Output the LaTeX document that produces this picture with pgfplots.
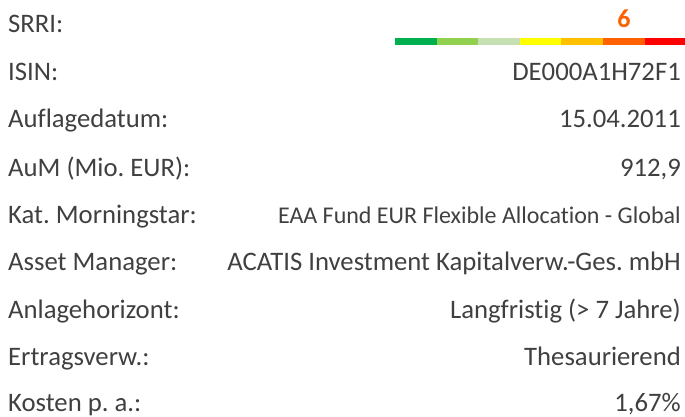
\documentclass[border=0pt]{standalone}
\usepackage{pgfplots}
\pgfplotsset{compat=1.18}
\usepackage{fontspec}
\setmainfont{Carlito}[Ligatures=NoCommon]
\frenchspacing
\definecolor{txt}{RGB}{64,64,64}
\definecolor{s1}{RGB}{0,176,80}
\definecolor{s2}{RGB}{146,208,80}
\definecolor{s3}{RGB}{198,224,180}
\definecolor{s4}{RGB}{255,255,0}
\definecolor{s5}{RGB}{255,192,0}
\definecolor{s6}{RGB}{255,96,0}
\definecolor{s7}{RGB}{255,0,0}
\tikzset{lbl/.style={text=txt, inner sep=0pt, font=\fontsize{26.7}{28}\selectfont}}
\begin{document}
\begin{tikzpicture}
\begin{axis}[
  scale only axis, width=685pt, height=417pt,
  xmin=0, xmax=685, ymin=0, ymax=417, y dir=reverse,
  hide axis, clip=false,
  xbar stacked, bar width=7pt,
]
% SRRI scale: offset, then 7 risk classes
\addplot[draw=none, fill=white, opacity=0] coordinates {(395,41.5)};
\addplot[draw=none, fill=s1] coordinates {(42,41.5)};
\addplot[draw=none, fill=s2] coordinates {(41,41.5)};
\addplot[draw=none, fill=s3] coordinates {(42,41.5)};
\addplot[draw=none, fill=s4] coordinates {(41,41.5)};
\addplot[draw=none, fill=s5] coordinates {(42,41.5)};
\addplot[draw=none, fill=s6] coordinates {(42,41.5)};
\addplot[draw=none, fill=s7] coordinates {(40,41.5)};

\node[anchor=base, text=s6, font=\fontsize{26}{28}\selectfont\bfseries]
  at (axis cs:624,28) {6};

\node[lbl, anchor=base west] at (axis cs:8,33)  {SRRI:};
\node[lbl, anchor=base west] at (axis cs:8,81)  {ISIN:};
\node[lbl, anchor=base west] at (axis cs:8,128) {Auflagedatum:};
\node[lbl, anchor=base west] at (axis cs:8,176) {AuM (Mio. EUR):};
\node[lbl, anchor=base west] at (axis cs:8,223) {Kat. Morningstar:};
\node[lbl, anchor=base west] at (axis cs:8,270) {Asset Manager:};
\node[lbl, anchor=base west] at (axis cs:8,318) {Anlagehorizont:};
\node[lbl, anchor=base west] at (axis cs:8,365) {Ertragsverw.:};
\node[lbl, anchor=base west] at (axis cs:8,411) {Kosten p. a.:};

\node[lbl, anchor=base east] at (axis cs:681,81)  {DE000A1H72F1};
\node[lbl, anchor=base east] at (axis cs:681,128) {15.04.2011};
\node[lbl, anchor=base east] at (axis cs:681,176) {912,9};
\node[lbl, anchor=base east, font=\fontsize{24}{26}\selectfont] at (axis cs:681,223)
  {EAA Fund EUR Flexible Allocation - Global};
\node[lbl, anchor=base east] at (axis cs:681,270) {ACATIS Investment Kapitalverw.-Ges. mbH};
\node[lbl, anchor=base east] at (axis cs:681,318) {Langfristig (> 7 Jahre)};
\node[lbl, anchor=base east] at (axis cs:681,365) {Thesaurierend};
\node[lbl, anchor=base east] at (axis cs:681,411) {1,67\%};
\end{axis}
\pgfresetboundingbox
\path (current axis.south west) rectangle (current axis.north east);
\end{tikzpicture}
\end{document}
